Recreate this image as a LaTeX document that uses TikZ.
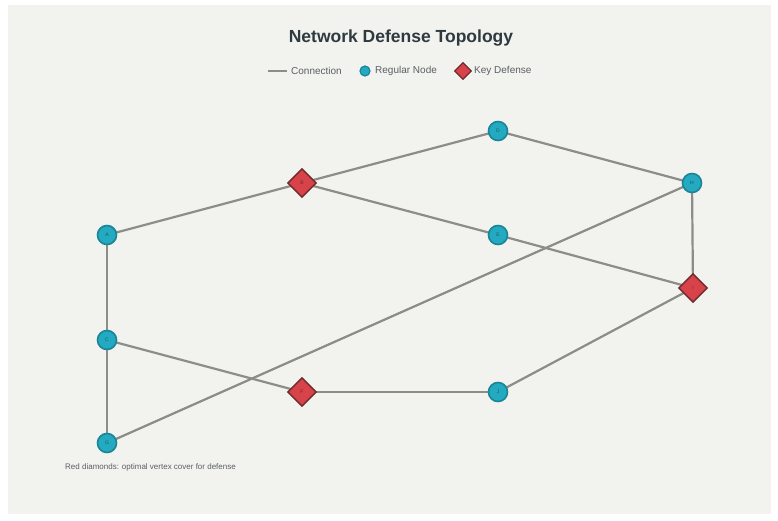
\documentclass[tikz,border=0pt]{standalone}
\usepackage{fontspec}
\setmainfont{Liberation Sans}
\usetikzlibrary{shapes.geometric}
\definecolor{bgc}{HTML}{F2F2EE}
\definecolor{edgec}{HTML}{8C8C88}
\definecolor{tealfill}{HTML}{23A9C0}
\definecolor{tealdraw}{HTML}{1A8597}
\definecolor{redfill}{HTML}{D8434A}
\definecolor{reddraw}{HTML}{6E2A2C}
\definecolor{titlec}{HTML}{2E3A40}
\definecolor{textc}{HTML}{5A6065}
\pgfdeclarelayer{edgelayer}
\pgfsetlayers{edgelayer,main}
\tikzset{
  regnode/.style={circle, fill=tealfill, draw=tealdraw, line width=1.6pt, minimum size=19pt, inner sep=0pt, font=\fontsize{5}{5}\selectfont, text=tealdraw!70!black},
  keynode/.style={diamond, fill=redfill, draw=reddraw, line width=1.4pt, minimum size=29pt, inner sep=0pt, font=\fontsize{5}{5}\selectfont, text=reddraw},
  conn/.style={draw=edgec, line width=2.2pt},
  lgtext/.style={font=\fontsize{10}{11}\selectfont, text=textc, inner sep=0pt, anchor=west}
}
\begin{document}
\begin{tikzpicture}[x=1pt,y=-1pt]
\useasboundingbox (0,0) rectangle (778,521);
\begin{pgfonlayer}{edgelayer}
\fill[white] (0,0) rectangle (778,521);
\fill[bgc] (8,5) rectangle (771,514);
\end{pgfonlayer}
% title
\node[font=\fontsize{17.5}{20}\selectfont\bfseries, text=titlec] (title) at (401,38) {Network Defense Topology};
% legend
\coordinate (l1) at (268,71);
\coordinate (l2) at (287,71);
\draw[conn, line width=1.8pt] (l1) -- (l2);
\node[lgtext] (lc) at (291,71) {Connection};
\node[regnode, minimum size=10pt, line width=1.2pt] (lr) at (365,71) {};
\node[lgtext] (lrt) at (375,71) {Regular Node};
\node[keynode, minimum size=17pt, line width=1.2pt] (lk) at (463,71) {};
\node[lgtext] (lkt) at (474,71) {Key Defense};
% nodes
\node[regnode] (A) at (107,235) {A};
\node[keynode] (B) at (302,183) {B};
\node[regnode] (C) at (107,340) {C};
\node[regnode] (D) at (498,131) {D};
\node[regnode] (E) at (498,235) {E};
\node[keynode] (F) at (302,392) {F};
\node[regnode] (G) at (107,443) {G};
\node[regnode] (H) at (692,183) {H};
\node[keynode] (I) at (693,288) {I};
\node[regnode] (J) at (498,392) {J};
% edges
\begin{pgfonlayer}{edgelayer}
\path[conn] (A.center) -- (B.center);
\path[conn] (B.center) -- (D.center);
\path[conn] (D.center) -- (H.center);
\path[conn] (B.center) -- (E.center);
\path[conn] (E.center) -- (I.center);
\path[conn] (H.center) -- (I.center);
\path[conn] (A.center) -- (C.center);
\path[conn] (C.center) -- (G.center);
\path[conn] (C.center) -- (F.center);
\path[conn] (F.center) -- (J.center);
\path[conn] (J.center) -- (I.center);
\path[conn] (G.center) -- (H.center);
\end{pgfonlayer}
% footnote
\node[font=\fontsize{8}{9}\selectfont, text=textc, anchor=west, inner sep=0pt] (note) at (65,467) {Red diamonds: optimal vertex cover for defense};
\end{tikzpicture}
\end{document}
